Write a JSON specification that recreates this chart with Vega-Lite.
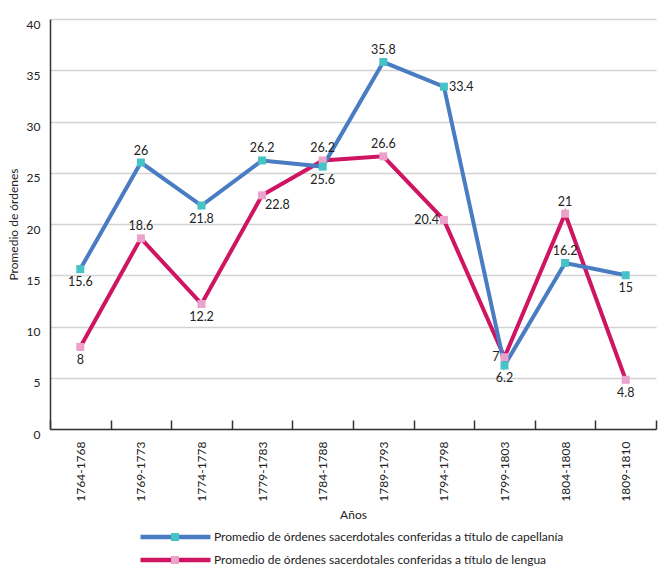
{
  "$schema": "https://vega.github.io/schema/vega-lite/v6.json",
  "width": 606,
  "height": 410,
  "autosize": "none",
  "padding": {"left": 50, "top": 19, "right": 15, "bottom": 143},
  "config": {
    "font": "Lato",
    "view": {"stroke": null},
    "axis": {"labelColor": "#222", "titleColor": "#222", "titleFontWeight": "normal", "labelFontSize": 12, "titleFontSize": 12}
  },
  "data": {
    "values": [
      {"period": "1764-1768", "serie": "Promedio de órdenes sacerdotales conferidas a título de lengua", "value": 8},
      {"period": "1769-1773", "serie": "Promedio de órdenes sacerdotales conferidas a título de lengua", "value": 18.6},
      {"period": "1774-1778", "serie": "Promedio de órdenes sacerdotales conferidas a título de lengua", "value": 12.2},
      {"period": "1779-1783", "serie": "Promedio de órdenes sacerdotales conferidas a título de lengua", "value": 22.8},
      {"period": "1784-1788", "serie": "Promedio de órdenes sacerdotales conferidas a título de lengua", "value": 26.2},
      {"period": "1789-1793", "serie": "Promedio de órdenes sacerdotales conferidas a título de lengua", "value": 26.6},
      {"period": "1794-1798", "serie": "Promedio de órdenes sacerdotales conferidas a título de lengua", "value": 20.4},
      {"period": "1799-1803", "serie": "Promedio de órdenes sacerdotales conferidas a título de lengua", "value": 7},
      {"period": "1804-1808", "serie": "Promedio de órdenes sacerdotales conferidas a título de lengua", "value": 21},
      {"period": "1809-1810", "serie": "Promedio de órdenes sacerdotales conferidas a título de lengua", "value": 4.8},
      {"period": "1764-1768", "serie": "Promedio de órdenes sacerdotales conferidas a título de capellanía", "value": 15.6},
      {"period": "1769-1773", "serie": "Promedio de órdenes sacerdotales conferidas a título de capellanía", "value": 26},
      {"period": "1774-1778", "serie": "Promedio de órdenes sacerdotales conferidas a título de capellanía", "value": 21.8},
      {"period": "1779-1783", "serie": "Promedio de órdenes sacerdotales conferidas a título de capellanía", "value": 26.2},
      {"period": "1784-1788", "serie": "Promedio de órdenes sacerdotales conferidas a título de capellanía", "value": 25.6},
      {"period": "1789-1793", "serie": "Promedio de órdenes sacerdotales conferidas a título de capellanía", "value": 35.8},
      {"period": "1794-1798", "serie": "Promedio de órdenes sacerdotales conferidas a título de capellanía", "value": 33.4},
      {"period": "1799-1803", "serie": "Promedio de órdenes sacerdotales conferidas a título de capellanía", "value": 6.2},
      {"period": "1804-1808", "serie": "Promedio de órdenes sacerdotales conferidas a título de capellanía", "value": 16.2},
      {"period": "1809-1810", "serie": "Promedio de órdenes sacerdotales conferidas a título de capellanía", "value": 15}
    ]
  },
  "encoding": {
    "x": {
      "field": "period",
      "type": "ordinal",
      "scale": {"type": "band", "paddingInner": 0, "paddingOuter": 0},
      "axis": {
        "title": "Años",
        "labelAngle": -90,
        "tickBand": "extent",
        "tickSize": -9,
        "tickColor": "#333",
        "tickWidth": 1.5,
        "domainColor": "#333",
        "domainWidth": 1.5,
        "labelPadding": 21,
        "titlePadding": 8,
        "grid": false
      }
    },
    "y": {
      "field": "value",
      "type": "quantitative",
      "scale": {"domain": [0, 40], "nice": false},
      "axis": {
        "title": "Promedio de órdenes",
        "values": [0, 5, 10, 15, 20, 25, 30, 35, 40],
        "ticks": false,
        "domainColor": "#333",
        "domainWidth": 1.5,
        "gridColor": "#d3d3d3",
        "gridWidth": 1.5,
        "labelBaseline": "top",
        "labelPadding": 10,
        "titlePadding": 6
      }
    }
  },
  "layer": [
    {
      "mark": {"type": "line", "strokeWidth": 4},
      "encoding": {
        "stroke": {
          "field": "serie",
          "type": "nominal",
          "scale": {
            "domain": ["Promedio de órdenes sacerdotales conferidas a título de capellanía", "Promedio de órdenes sacerdotales conferidas a título de lengua"],
            "range": ["#4a7cc3", "#cf1462"]
          },
          "legend": {
            "orient": "none",
            "legendX": 88,
            "legendY": 510,
            "title": null,
            "padding": 0,
            "symbolType": "stroke",
            "symbolSize": 4900,
            "symbolStrokeWidth": 4.5,
            "clipHeight": 16,
            "rowPadding": 7,
            "labelOffset": 1,
            "labelFontSize": 12,
            "labelColor": "#222",
            "labelLimit": 600
          }
        }
      }
    },
    {
      "mark": {"type": "point", "shape": "square", "filled": true, "size": 64, "opacity": 1},
      "encoding": {
        "fill": {
          "field": "serie",
          "type": "nominal",
          "scale": {
            "domain": ["Promedio de órdenes sacerdotales conferidas a título de capellanía", "Promedio de órdenes sacerdotales conferidas a título de lengua"],
            "range": ["#45c3c6", "#eba3cc"]
          },
          "legend": {
            "orient": "none",
            "legendX": 119,
            "legendY": 510,
            "title": null,
            "padding": 0,
            "symbolType": "square",
            "symbolSize": 64,
            "symbolStrokeWidth": 0,
            "symbolOpacity": 1,
            "clipHeight": 16,
            "rowPadding": 7,
            "labelExpr": "''",
            "labelFontSize": 12
          }
        }
      }
    },
    {
      "transform": [{"filter": "(test(/capellan/, datum.serie) && indexof(['1769-1773','1779-1783','1789-1793','1804-1808'], datum.period) >= 0) || (test(/lengua/, datum.serie) && indexof(['1769-1773','1784-1788','1789-1793','1804-1808'], datum.period) >= 0)"}],
      "mark": {"type": "text", "dy": -12, "fontSize": 12.5, "color": "#222"},
      "encoding": {"text": {"field": "value", "type": "quantitative"}}
    },
    {
      "transform": [{"filter": "(test(/capellan/, datum.serie) && indexof(['1764-1768','1774-1778','1784-1788','1799-1803','1809-1810'], datum.period) >= 0) || (test(/lengua/, datum.serie) && indexof(['1764-1768','1774-1778','1809-1810'], datum.period) >= 0)"}],
      "mark": {"type": "text", "dy": 13, "fontSize": 12.5, "color": "#222"},
      "encoding": {"text": {"field": "value", "type": "quantitative"}}
    },
    {
      "transform": [{"filter": "test(/capellan/, datum.serie) && datum.period == '1794-1798'"}],
      "mark": {"type": "text", "dx": 5, "align": "left", "fontSize": 12.5, "color": "#222"},
      "encoding": {"text": {"field": "value", "type": "quantitative"}}
    },
    {
      "transform": [{"filter": "test(/lengua/, datum.serie) && datum.period == '1779-1783'"}],
      "mark": {"type": "text", "dx": 3, "dy": 10, "align": "left", "fontSize": 12.5, "color": "#222"},
      "encoding": {"text": {"field": "value", "type": "quantitative"}}
    },
    {
      "transform": [{"filter": "test(/lengua/, datum.serie) && indexof(['1794-1798','1799-1803'], datum.period) >= 0"}],
      "mark": {"type": "text", "dx": -5, "align": "right", "fontSize": 12.5, "color": "#222"},
      "encoding": {"text": {"field": "value", "type": "quantitative"}}
    }
  ],
  "resolve": {"legend": {"stroke": "independent", "fill": "independent"}}
}
